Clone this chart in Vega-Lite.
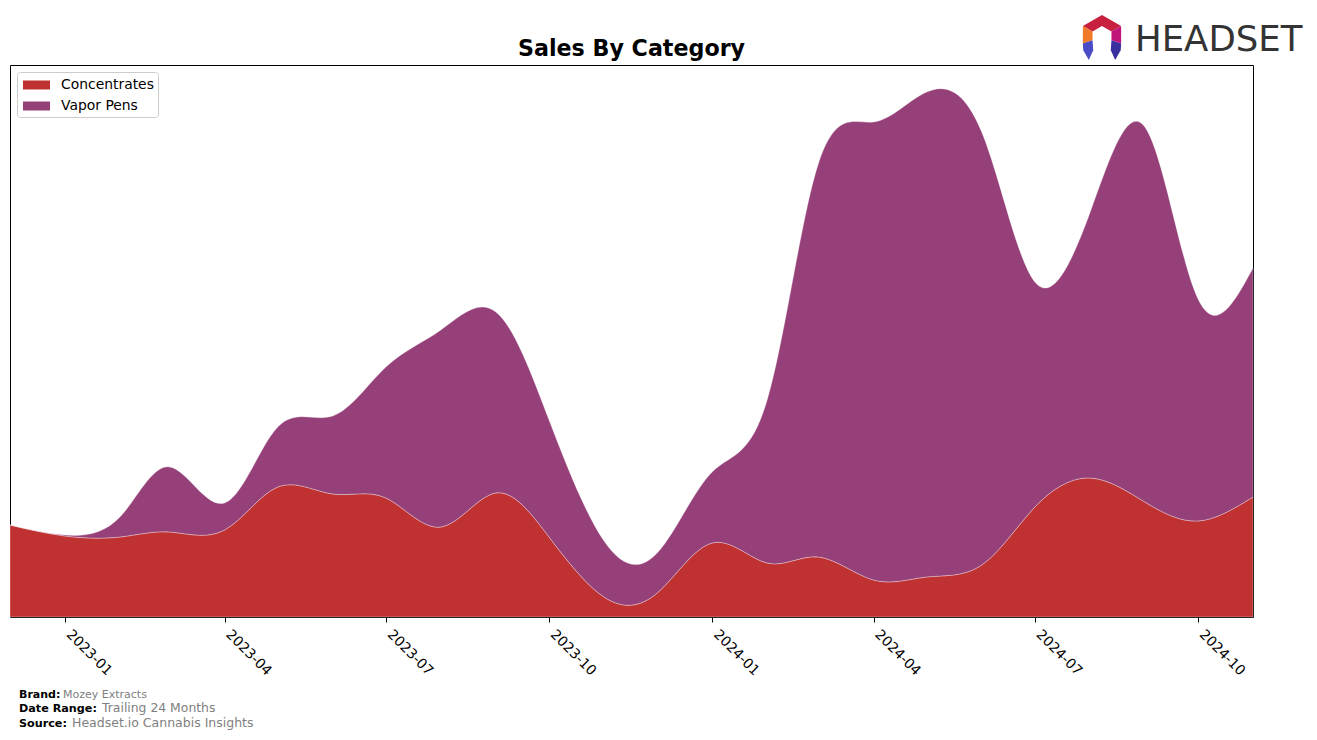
{
  "$schema": "https://vega.github.io/schema/vega-lite/v6.json",
  "width": 1243,
  "height": 552,
  "autosize": {"type": "none"},
  "padding": {"left": 10, "top": 65, "right": 64, "bottom": 123},
  "background": "white",
  "config": {"view": {"stroke": "black", "strokeWidth": 1}},
  "data": {"values": [
    {"month": "2022-12-01", "category": "Concentrates", "value": 92},
    {"month": "2023-01-01", "category": "Concentrates", "value": 81},
    {"month": "2023-02-01", "category": "Concentrates", "value": 80},
    {"month": "2023-03-01", "category": "Concentrates", "value": 85},
    {"month": "2023-04-01", "category": "Concentrates", "value": 87},
    {"month": "2023-05-01", "category": "Concentrates", "value": 130},
    {"month": "2023-06-01", "category": "Concentrates", "value": 123},
    {"month": "2023-07-01", "category": "Concentrates", "value": 119},
    {"month": "2023-08-01", "category": "Concentrates", "value": 90},
    {"month": "2023-09-01", "category": "Concentrates", "value": 124},
    {"month": "2023-10-01", "category": "Concentrates", "value": 80},
    {"month": "2023-11-01", "category": "Concentrates", "value": 20},
    {"month": "2023-12-01", "category": "Concentrates", "value": 24},
    {"month": "2024-01-01", "category": "Concentrates", "value": 74},
    {"month": "2024-02-01", "category": "Concentrates", "value": 54},
    {"month": "2024-03-01", "category": "Concentrates", "value": 60},
    {"month": "2024-04-01", "category": "Concentrates", "value": 37},
    {"month": "2024-05-01", "category": "Concentrates", "value": 40},
    {"month": "2024-06-01", "category": "Concentrates", "value": 52},
    {"month": "2024-07-01", "category": "Concentrates", "value": 110},
    {"month": "2024-08-01", "category": "Concentrates", "value": 139},
    {"month": "2024-09-01", "category": "Concentrates", "value": 115},
    {"month": "2024-10-01", "category": "Concentrates", "value": 96},
    {"month": "2024-11-01", "category": "Concentrates", "value": 120},
    {"month": "2022-12-01", "category": "Vapor Pens", "value": 0},
    {"month": "2023-01-01", "category": "Vapor Pens", "value": 1},
    {"month": "2023-02-01", "category": "Vapor Pens", "value": 20},
    {"month": "2023-03-01", "category": "Vapor Pens", "value": 65},
    {"month": "2023-04-01", "category": "Vapor Pens", "value": 27},
    {"month": "2023-05-01", "category": "Vapor Pens", "value": 60},
    {"month": "2023-06-01", "category": "Vapor Pens", "value": 78},
    {"month": "2023-07-01", "category": "Vapor Pens", "value": 131},
    {"month": "2023-08-01", "category": "Vapor Pens", "value": 197},
    {"month": "2023-09-01", "category": "Vapor Pens", "value": 181},
    {"month": "2023-10-01", "category": "Vapor Pens", "value": 117},
    {"month": "2023-11-01", "category": "Vapor Pens", "value": 56},
    {"month": "2023-12-01", "category": "Vapor Pens", "value": 40},
    {"month": "2024-01-01", "category": "Vapor Pens", "value": 71},
    {"month": "2024-02-01", "category": "Vapor Pens", "value": 163},
    {"month": "2024-03-01", "category": "Vapor Pens", "value": 394},
    {"month": "2024-04-01", "category": "Vapor Pens", "value": 458},
    {"month": "2024-05-01", "category": "Vapor Pens", "value": 485},
    {"month": "2024-06-01", "category": "Vapor Pens", "value": 433},
    {"month": "2024-07-01", "category": "Vapor Pens", "value": 225},
    {"month": "2024-08-01", "category": "Vapor Pens", "value": 265},
    {"month": "2024-09-01", "category": "Vapor Pens", "value": 375},
    {"month": "2024-10-01", "category": "Vapor Pens", "value": 222},
    {"month": "2024-11-01", "category": "Vapor Pens", "value": 229}
  ]},
  "layer": [
    {
      "mark": {"type": "area", "interpolate": "natural", "stroke": "white", "strokeWidth": 0.7, "strokeOpacity": 0.45},
      "encoding": {
        "x": {"field": "month", "type": "temporal",
          "scale": {"type": "utc", "domain": [{"year": 2022, "month": 12, "date": 1, "utc": true}, {"year": 2024, "month": 11, "date": 1, "utc": true}]},
          "axis": {"title": null, "grid": false, "domain": false, "labelExpr": "utcFormat(datum.value, '%Y-%m')",
            "values": [
              {"year": 2023, "month": 1, "date": 1, "utc": true},
              {"year": 2023, "month": 4, "date": 1, "utc": true},
              {"year": 2023, "month": 7, "date": 1, "utc": true},
              {"year": 2023, "month": 10, "date": 1, "utc": true},
              {"year": 2024, "month": 1, "date": 1, "utc": true},
              {"year": 2024, "month": 4, "date": 1, "utc": true},
              {"year": 2024, "month": 7, "date": 1, "utc": true},
              {"year": 2024, "month": 10, "date": 1, "utc": true}
            ],
            "labelAngle": 45, "labelAlign": "left", "labelBaseline": "top", "labelFont": "DejaVu Sans", "labelFontSize": 13.9, "labelColor": "black",
            "tickColor": "black", "tickSize": 5, "tickWidth": 1, "labelPadding": 5, "labelOffset": 8, "labelFlush": false, "labelOverlap": false}},
        "y": {"field": "value", "type": "quantitative", "stack": "zero", "scale": {"domain": [0, 552], "nice": false, "zero": true}, "axis": null},
        "color": {"field": "category", "type": "nominal",
          "scale": {"domain": ["Concentrates", "Vapor Pens"], "range": ["#C03232", "#964079"]},
          "legend": {"title": null, "orient": "none", "legendX": 7, "legendY": 7, "padding": 4, "rowPadding": 5,
            "strokeColor": "#cccccc", "fillColor": "white", "cornerRadius": 3,
            "symbolType": "M-1.5,-0.5H1.5V0.5H-1.5Z", "symbolSize": 324, "symbolOffset": 6.5, "symbolStrokeWidth": 0, "symbolOpacity": 1,
            "labelFont": "DejaVu Sans", "labelFontSize": 13.9, "labelColor": "black", "labelOffset": 15.5}},
        "order": {"field": "category", "sort": "ascending"}
      }
    },
    {"data": {"values": [{}]}, "mark": {"type": "text", "text": "Sales By Category", "x": 621.5, "y": -9, "align": "center", "baseline": "alphabetic", "font": "DejaVu Sans", "fontWeight": "bold", "fontSize": 22.2, "color": "black"}},
    {"data": {"values": [{}]}, "mark": {"type": "text", "text": "Brand:", "x": 9, "y": 632.5, "align": "left", "baseline": "alphabetic", "font": "DejaVu Sans", "fontWeight": "bold", "fontSize": 11, "color": "black"}},
    {"data": {"values": [{}]}, "mark": {"type": "text", "text": "Mozey Extracts", "x": 53, "y": 632.5, "align": "left", "baseline": "alphabetic", "font": "DejaVu Sans", "fontSize": 11, "color": "#808080"}},
    {"data": {"values": [{}]}, "mark": {"type": "text", "text": "Date Range:", "x": 9, "y": 647, "align": "left", "baseline": "alphabetic", "font": "DejaVu Sans", "fontWeight": "bold", "fontSize": 11.2, "color": "black"}},
    {"data": {"values": [{}]}, "mark": {"type": "text", "text": "Trailing 24 Months", "x": 92, "y": 647, "align": "left", "baseline": "alphabetic", "font": "DejaVu Sans", "fontSize": 12.4, "color": "#808080"}},
    {"data": {"values": [{}]}, "mark": {"type": "text", "text": "Source:", "x": 9, "y": 662, "align": "left", "baseline": "alphabetic", "font": "DejaVu Sans", "fontWeight": "bold", "fontSize": 11.2, "color": "black"}},
    {"data": {"values": [{}]}, "mark": {"type": "text", "text": "Headset.io Cannabis Insights", "x": 62, "y": 662, "align": "left", "baseline": "alphabetic", "font": "DejaVu Sans", "fontSize": 12.5, "color": "#808080"}},
    {"data": {"values": [{}]}, "mark": {"type": "text", "text": "HEADSET", "x": 1125, "y": -14, "align": "left", "baseline": "alphabetic", "font": "DejaVu Sans", "fontSize": 35.5, "color": "#333333"}},
    {"data": {"values": [{}]}, "mark": {"type": "point", "shape": "M-0.87,-0.5L0,-1L0.87,-0.5L0.43,-0.25L0,-0.5L-0.43,-0.25Z", "size": 1936, "filled": true, "fill": "#C8203F", "opacity": 1, "strokeWidth": 0, "x": 1092, "y": -28}},
    {"data": {"values": [{}]}, "mark": {"type": "point", "shape": "M-0.87,-0.5L-0.87,0.3L-0.43,0.15L-0.43,-0.25Z", "size": 1936, "filled": true, "fill": "#F07A28", "opacity": 1, "strokeWidth": 0, "x": 1092, "y": -28}},
    {"data": {"values": [{}]}, "mark": {"type": "point", "shape": "M0.87,-0.5L0.87,0.3L0.43,0.15L0.43,-0.25Z", "size": 1936, "filled": true, "fill": "#C0167A", "opacity": 1, "strokeWidth": 0, "x": 1092, "y": -28}},
    {"data": {"values": [{}]}, "mark": {"type": "point", "shape": "M-0.87,0.3L-0.43,0.15L-0.4,0.6L-0.6,1.05L-0.85,0.6Z", "size": 1936, "filled": true, "fill": "#4B4BC8", "opacity": 1, "strokeWidth": 0, "x": 1092, "y": -28}},
    {"data": {"values": [{}]}, "mark": {"type": "point", "shape": "M0.87,0.3L0.43,0.15L0.4,0.6L0.6,1.05L0.85,0.6Z", "size": 1936, "filled": true, "fill": "#3A2F9E", "opacity": 1, "strokeWidth": 0, "x": 1092, "y": -28}}
  ]
}
